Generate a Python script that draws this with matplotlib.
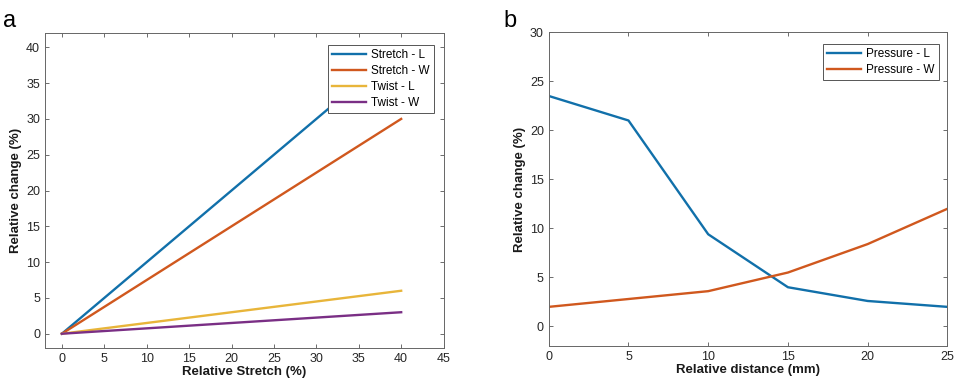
import matplotlib
matplotlib.use("Agg")
import matplotlib.pyplot as plt

# Panel a data
stretch_x = [0, 10, 20, 30, 40]
stretch_L = [0, 10, 20, 30, 40]
stretch_W = [0, 7.5, 15, 22.5, 30]
twist_L = [0, 1.5, 3, 4.5, 6]
twist_W = [0, 0.75, 1.5, 2.25, 3]

# Panel b data
dist_x = [0, 5, 10, 15, 20, 25]
pressure_L = [23.5, 21.0, 9.4, 4.0, 2.6, 2.0]
pressure_W = [2.0, 2.8, 3.6, 5.5, 8.4, 12.0]

C1, C2, C3, C4 = "#1170AA", "#D0581E", "#E8B53A", "#7A2F85"

plt.rcParams['font.family'] = ['Liberation Sans', 'DejaVu Sans']
fig = plt.figure(figsize=(9.56, 3.88), dpi=100)

def style(ax):
    ax.tick_params(direction='in', top=True, right=True, labelsize=9, length=3, width=0.6,
                   colors='#555555', labelcolor='#262626')
    for s in ax.spines.values():
        s.set_linewidth(0.7)
        s.set_color('#666666')

LW = 1.7
ax1 = fig.add_axes([0.047, 0.103, 0.417, 0.812])
ax1.plot(stretch_x, stretch_L, color=C1, lw=LW, label='Stretch - L')
ax1.plot(stretch_x, stretch_W, color=C2, lw=LW, label='Stretch - W')
ax1.plot(stretch_x, twist_L, color=C3, lw=LW, label='Twist - L')
ax1.plot(stretch_x, twist_W, color=C4, lw=LW, label='Twist - W')
ax1.set_xlim(-2, 45)
ax1.set_ylim(-2, 42)
ax1.set_xticks(range(0, 46, 5))
ax1.set_yticks(range(0, 41, 5))
ax1.set_xlabel('Relative Stretch (%)', fontsize=9.5, fontweight='bold', labelpad=1, color='#1a1a1a')
ax1.set_ylabel('Relative change (%)', fontsize=9.5, fontweight='bold', labelpad=3, color='#1a1a1a')
style(ax1)
leg = ax1.legend(loc='upper right', fontsize=8.5, fancybox=False, framealpha=1,
                 edgecolor='#555555', handlelength=2.9, borderpad=0.35, labelspacing=0.35,
                 handletextpad=0.4, bbox_to_anchor=(0.99, 0.982))
leg.get_frame().set_linewidth(0.7)

ax2 = fig.add_axes([0.574, 0.108, 0.417, 0.809])
ax2.plot(dist_x, pressure_L, color=C1, lw=LW, label='Pressure - L')
ax2.plot(dist_x, pressure_W, color=C2, lw=LW, label='Pressure - W')
ax2.set_xlim(0, 25)
ax2.set_ylim(-2, 30)
ax2.set_xticks(range(0, 26, 5))
ax2.set_yticks(range(0, 31, 5))
ax2.set_xlabel('Relative distance (mm)', fontsize=9.5, fontweight='bold', labelpad=1, color='#1a1a1a')
ax2.set_ylabel('Relative change (%)', fontsize=9.5, fontweight='bold', labelpad=3, color='#1a1a1a')
style(ax2)
leg2 = ax2.legend(loc='upper right', fontsize=8.5, fancybox=False, framealpha=1,
                  edgecolor='#555555', handlelength=2.9, borderpad=0.35, labelspacing=0.35,
                  handletextpad=0.4, bbox_to_anchor=(0.993, 0.982))
leg2.get_frame().set_linewidth(0.7)

fig.text(0.003, 0.93, 'a', fontsize=17)
fig.text(0.527, 0.93, 'b', fontsize=17)

fig.savefig('out.png', dpi=100)
